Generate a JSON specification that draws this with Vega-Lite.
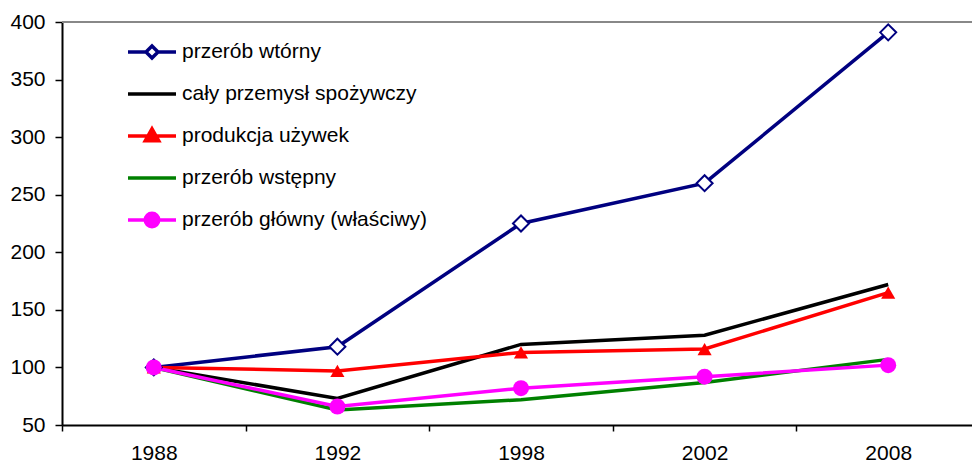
{
  "$schema": "https://vega.github.io/schema/vega-lite/v6.json",
  "width": 910,
  "height": 403,
  "autosize": {"type": "none"},
  "padding": {"left": 62, "top": 22, "right": 0, "bottom": 40},
  "background": "white",
  "config": {"view": {"stroke": null}, "font": "Liberation Sans"},
  "data": {
    "values": [
      {"rok": "1988", "seria": "przerób wtórny", "v": 100},
      {"rok": "1992", "seria": "przerób wtórny", "v": 118},
      {"rok": "1998", "seria": "przerób wtórny", "v": 225},
      {"rok": "2002", "seria": "przerób wtórny", "v": 260},
      {"rok": "2008", "seria": "przerób wtórny", "v": 391},
      {"rok": "1988", "seria": "cały przemysł spożywczy", "v": 100},
      {"rok": "1992", "seria": "cały przemysł spożywczy", "v": 73},
      {"rok": "1998", "seria": "cały przemysł spożywczy", "v": 120},
      {"rok": "2002", "seria": "cały przemysł spożywczy", "v": 128},
      {"rok": "2008", "seria": "cały przemysł spożywczy", "v": 172},
      {"rok": "1988", "seria": "produkcja używek", "v": 100},
      {"rok": "1992", "seria": "produkcja używek", "v": 97},
      {"rok": "1998", "seria": "produkcja używek", "v": 113},
      {"rok": "2002", "seria": "produkcja używek", "v": 116},
      {"rok": "2008", "seria": "produkcja używek", "v": 165},
      {"rok": "1988", "seria": "przerób wstępny", "v": 100},
      {"rok": "1992", "seria": "przerób wstępny", "v": 63},
      {"rok": "1998", "seria": "przerób wstępny", "v": 72},
      {"rok": "2002", "seria": "przerób wstępny", "v": 87},
      {"rok": "2008", "seria": "przerób wstępny", "v": 107},
      {"rok": "1988", "seria": "przerób główny (właściwy)", "v": 100},
      {"rok": "1992", "seria": "przerób główny (właściwy)", "v": 66},
      {"rok": "1998", "seria": "przerób główny (właściwy)", "v": 82},
      {"rok": "2002", "seria": "przerób główny (właściwy)", "v": 92},
      {"rok": "2008", "seria": "przerób główny (właściwy)", "v": 102}
    ]
  },
  "encoding": {
    "x": {
      "field": "rok",
      "type": "ordinal",
      "sort": ["1988", "1992", "1998", "2002", "2008"],
      "scale": {"type": "band", "paddingInner": 0, "paddingOuter": 0, "range": [0, 918]},
      "axis": {
        "title": null,
        "labelAngle": 0,
        "grid": false,
        "domainColor": "black",
        "domainWidth": 2,
        "tickColor": "black",
        "tickWidth": 1.5,
        "tickSize": 6,
        "tickBand": "extent",
        "labelPadding": 11,
        "labelFontSize": 21,
        "labelColor": "black",
        "labelFont": "Liberation Sans"
      }
    },
    "y": {
      "field": "v",
      "type": "quantitative",
      "scale": {"domain": [50, 400], "nice": false, "zero": false},
      "axis": {
        "title": null,
        "grid": false,
        "values": [50, 100, 150, 200, 250, 300, 350, 400],
        "domainColor": "black",
        "domainWidth": 2,
        "tickColor": "black",
        "tickWidth": 1.5,
        "tickSize": 7,
        "labelPadding": 10,
        "labelFontSize": 21,
        "labelColor": "black",
        "labelFont": "Liberation Sans"
      }
    }
  },
  "layer": [
    {
      "mark": {"type": "rule", "color": "#888888", "strokeWidth": 1.5},
      "encoding": {"y": {"datum": 400}, "x": null}
    },
    {
      "mark": {"type": "line", "strokeWidth": 3.5},
      "encoding": {
        "color": {
          "field": "seria",
          "type": "nominal",
          "scale": {
            "domain": ["przerób wtórny", "cały przemysł spożywczy", "produkcja używek", "przerób wstępny", "przerób główny (właściwy)"],
            "range": ["#000080", "#000000", "#ff0000", "#008000", "#ff00ff"]
          },
          "legend": {
            "orient": "none",
            "legendX": 64,
            "legendY": 9,
            "title": null,
            "padding": 0,
            "symbolSize": 2304,
            "symbolStrokeWidth": 3.5,
            "labelFontSize": 21,
            "labelColor": "black",
            "labelFont": "Liberation Sans",
            "labelOffset": 4,
            "labelLimit": 400,
            "clipHeight": 42,
            "rowPadding": 0,
            "encode": {
              "symbols": {
                "update": {
                  "shape": {"signal": "datum.value === 'przerób wtórny' ? 'M-1,0H-0.25M0.25,0H1M0,-0.25L0.25,0L0,0.25L-0.25,0Z' : datum.value === 'produkcja używek' ? 'M-1,0H1M0,-0.3L0.28,0.2L-0.28,0.2Z' : datum.value === 'przerób główny (właściwy)' ? 'M-1,0H1M-0.28,0A0.28,0.28 0 1,0 0.28,0A0.28,0.28 0 1,0 -0.28,0Z' : 'M-1,0H1'"},
                  "fill": {"signal": "datum.value === 'przerób wtórny' ? 'white' : datum.value === 'produkcja używek' ? '#ff0000' : datum.value === 'przerób główny (właściwy)' ? '#ff00ff' : 'transparent'"},
                  "fillOpacity": {"value": 1},
                  "opacity": {"value": 1}
                }
              }
            }
          }
        }
      }
    },
    {
      "transform": [{"filter": "datum.seria === 'przerób wtórny'"}],
      "mark": {"type": "point", "shape": "diamond", "size": 256, "filled": true, "fill": "white", "stroke": "#000080", "strokeWidth": 2, "opacity": 1}
    },
    {
      "transform": [{"filter": "datum.seria === 'produkcja używek'"}],
      "mark": {"type": "point", "shape": "triangle-up", "size": 200, "filled": true, "color": "#ff0000", "opacity": 1}
    },
    {
      "transform": [{"filter": "datum.seria === 'przerób główny (właściwy)'"}],
      "mark": {"type": "point", "shape": "circle", "size": 256, "filled": true, "color": "#ff00ff", "opacity": 1}
    }
  ]
}
